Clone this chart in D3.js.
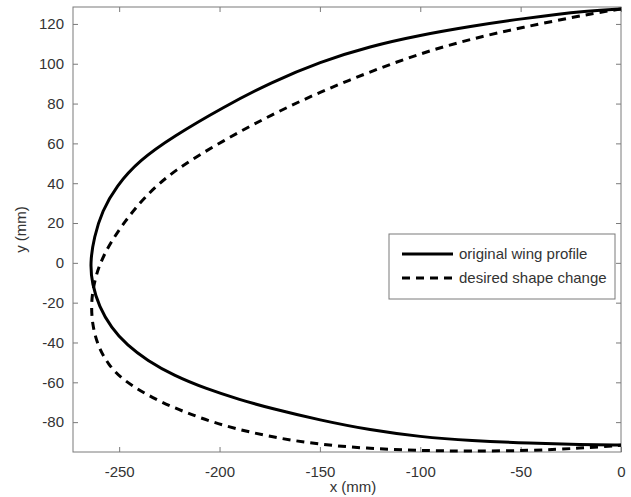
<!DOCTYPE html>
<html>
<head>
<meta charset="utf-8">
<script src="https://cdn.jsdelivr.net/npm/d3@7"></script>
<style>
  html, body { margin: 0; padding: 0; background: #fff; }
  svg { display: block; }
  text { font-family: "Liberation Sans", Arial, sans-serif; }
</style>
</head>
<body>
<svg id="chart" width="631" height="497"></svg>
<script>
// ---- data ----
const originalX = [0, -15, -50, -75, -100, -125, -150, -174, -198, -223, -240, -251.5, -258.5, -262.5, -264.5, -263.5, -260, -254, -246, -236, -223, -206.5, -190, -174, -150, -125, -100, -75, -45, -20, 0];
const originalY = [127.5, 126.8, 122.6, 118.8, 114.4, 108.8, 101, 90.8, 78.3, 63.5, 51.5, 38.5, 26, 13, 0, -10.5, -22, -32.5, -41.5, -49, -56.5, -63.3, -68.7, -73.2, -79, -84, -87.4, -89.3, -90.6, -91.3, -91.5];

const desiredX = [0, -15.5, -50, -75, -100, -125, -150, -174, -198, -223, -237.5, -247, -254.5, -260, -263, -264, -263.2, -260.5, -255.5, -248.3, -231.7, -215, -198.4, -174, -150, -125, -100, -75, -45, -20, 0];
const desiredY = [127.5, 125.1, 118.1, 112.4, 105.2, 96, 85.8, 74.5, 61.5, 46.4, 33, 21, 10, -1, -12, -22, -32, -42, -51, -58.9, -69, -75.9, -81.8, -87.6, -91.3, -93.3, -94.3, -94.6, -94.3, -93.1, -91.6];

const xTicks = [-250, -200, -150, -100, -50, 0];
const yTicks = [-80, -60, -40, -20, 0, 20, 40, 60, 80, 100, 120];
const xLabel = "x (mm)";
const yLabel = "y (mm)";
const legendLabels = ["original wing profile", "desired shape change"];

// ---- layout ----
const svg = d3.select("#chart");
const L = 73, T = 7, R = 621, B = 452;

const x = d3.scaleLinear().domain([-273, 0]).range([L, R]);
const y = d3.scaleLinear().domain([-95, 128.5]).range([B, T]);

const axisColor = "#7a7a7a";
const textColor = "#333";
const fontSize = 15;
const fmt = d => String(d);

// axes box
svg.append("rect")
  .attr("x", L).attr("y", T).attr("width", R - L).attr("height", B - T)
  .attr("fill", "none").attr("stroke", axisColor).attr("stroke-width", 1);

// axes (ticks point inward, on all four sides)
const gx = svg.append("g").attr("transform", `translate(0,${B})`)
  .call(d3.axisBottom(x).tickValues(xTicks).tickSizeInner(-5).tickSizeOuter(0).tickPadding(14).tickFormat(fmt));
const gxTop = svg.append("g").attr("transform", `translate(0,${T})`)
  .call(d3.axisTop(x).tickValues(xTicks).tickSizeInner(-5).tickSizeOuter(0).tickFormat(""));
const gy = svg.append("g").attr("transform", `translate(${L},0)`)
  .call(d3.axisLeft(y).tickValues(yTicks).tickSizeInner(-5).tickSizeOuter(0).tickPadding(9).tickFormat(fmt));
const gyR = svg.append("g").attr("transform", `translate(${R},0)`)
  .call(d3.axisRight(y).tickValues(yTicks).tickSizeInner(-5).tickSizeOuter(0).tickFormat(""));

[gx, gxTop, gy, gyR].forEach(g => {
  g.select(".domain").remove();
  g.selectAll(".tick line").attr("stroke", axisColor).attr("stroke-width", 1);
  g.selectAll(".tick text").attr("fill", textColor).attr("font-size", fontSize)
    .attr("font-family", "'Liberation Sans', Arial, sans-serif");
});

// axis labels
svg.append("text").attr("x", 353).attr("y", 492).attr("text-anchor", "middle")
  .attr("font-size", fontSize).attr("fill", textColor).text(xLabel);
svg.append("text").attr("transform", `translate(26,${(T + B) / 2}) rotate(-90)`)
  .attr("text-anchor", "middle").attr("font-size", fontSize).attr("fill", textColor).text(yLabel);

// lines
const line = d3.line().x(d => x(d[0])).y(d => y(d[1])).curve(d3.curveBasis);
const origData = originalX.map((v, i) => [v, originalY[i]]);
const desData = desiredX.map((v, i) => [v, desiredY[i]]);

svg.append("path").datum(desData).attr("d", line)
  .attr("fill", "none").attr("stroke", "#000").attr("stroke-width", 3)
  .attr("stroke-dasharray", "8,6");
svg.append("path").datum(origData).attr("d", line)
  .attr("fill", "none").attr("stroke", "#000").attr("stroke-width", 3);

// legend
const lg = svg.append("g");
lg.append("rect").attr("x", 389).attr("y", 234).attr("width", 226).attr("height", 65)
  .attr("fill", "#fff").attr("stroke", axisColor).attr("stroke-width", 1);
const styles = [null, "8,6"];
legendLabels.forEach((lab, i) => {
  const yy = 254 + i * 24;
  lg.append("line").attr("x1", 402).attr("x2", 453).attr("y1", yy).attr("y2", yy)
    .attr("stroke", "#000").attr("stroke-width", 3)
    .attr("stroke-dasharray", styles[i]);
  lg.append("text").attr("x", 459).attr("y", yy + 5).attr("font-size", fontSize)
    .attr("fill", textColor).text(lab);
});
</script>
</body>
</html>
